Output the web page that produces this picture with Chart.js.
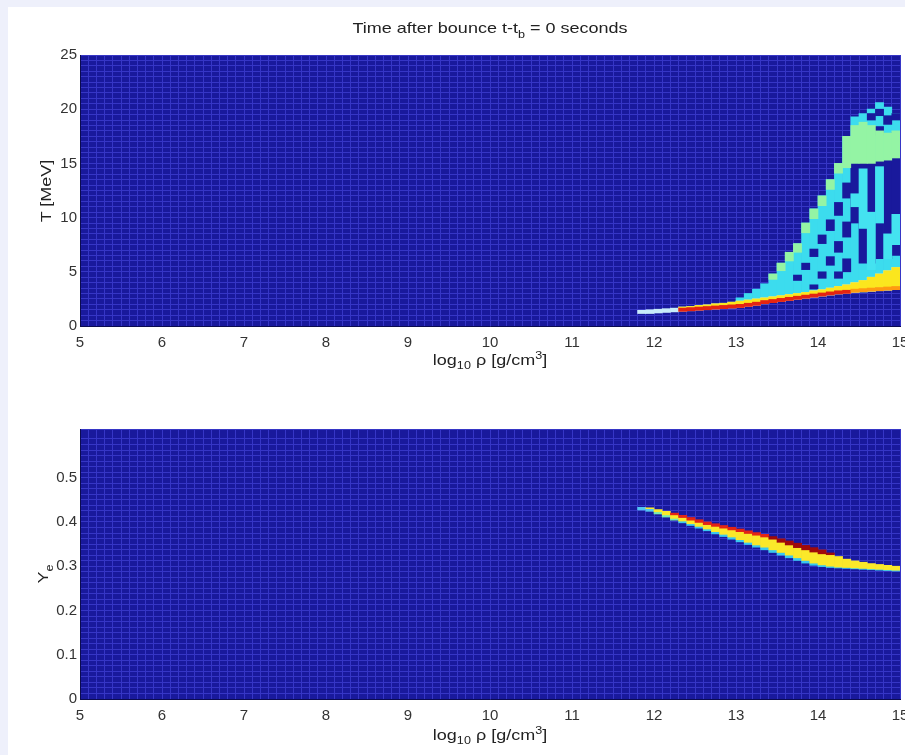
<!DOCTYPE html>
<html>
<head>
<meta charset="utf-8">
<script src="https://cdn.jsdelivr.net/npm/chart.js@4.4.1/dist/chart.umd.min.js"></script>
<style>
  html, body { margin: 0; overflow: hidden; }
  body { background: #eef0fb; width: 905px; height: 755px; font-family: "Liberation Sans", Arial, sans-serif; }
  #fig { position: absolute; left: 8px; top: 7px; width: 897px; height: 748px; background: #fff; }
  canvas { position: absolute; left: 0; }
  .lbl { position: absolute; color: #222; font-size: 15px; line-height: 1; white-space: nowrap; }
  .lbl sub { font-size: 70%; vertical-align: -0.45em; }
  .lbl sup { font-size: 70%; vertical-align: 0.55em; }
  .mid { left: 490px; transform: translateX(-50%) scaleX(1.2); }
  .rot { transform: translate(-50%, -50%) rotate(-90deg) scaleX(1.2); }
</style>
</head>
<body>
<div id="fig"></div>
<canvas id="tChart" width="905" height="372" style="top:0"></canvas>
<canvas id="yeChart" width="905" height="383" style="top:372px"></canvas>

<div class="lbl mid" style="top:20px">Time after bounce t-t<sub>b</sub> = 0 seconds</div>
<div class="lbl rot" style="left:45px;top:191px">T [MeV]</div>
<div class="lbl mid" style="top:350px">log<sub>10</sub> ρ [g/cm<sup>3</sup>]</div>
<div class="lbl rot" style="left:45px;top:574px">Y<sub>e</sub></div>
<div class="lbl mid" style="top:725px">log<sub>10</sub> ρ [g/cm<sup>3</sup>]</div>

<script>
// density bins (bin centres, 0.1 dex wide)
const rhoBins = [11.85, 11.95, 12.05, 12.15, 12.25, 12.35, 12.45, 12.55, 12.65, 12.75,
  12.85, 12.95, 13.05, 13.15, 13.25, 13.35, 13.45, 13.55, 13.65, 13.75,
  13.85, 13.95, 14.05, 14.15, 14.25, 14.35, 14.45, 14.55, 14.65, 14.75, 14.85, 14.95];

// top panel: temperature [MeV]
const tBandLo = [1.15, 1.15, 1.2, 1.25, 1.3, 1.35, 1.4, 1.45, 1.5, 1.55,
  1.6, 1.65, 1.7, 1.8, 1.9, 2.05, 2.15, 2.25, 2.35, 2.45,
  2.55, 2.65, 2.75, 2.85, 2.95, 3.0, 3.1, 3.15, 3.2, 3.25, 3.3, 3.35];
const tBandMid = [null, null, null, null, null, 1.65, 1.7, 1.75, 1.8, 1.85,
  1.9, 1.95, 2.0, 2.1, 2.2, 2.35, 2.45, 2.55, 2.65, 2.75,
  2.85, 2.95, 3.05, 3.15, 3.25, 3.3, 3.4, 3.45, 3.5, 3.55, 3.6, 3.65];
const tBandHi = [1.45, 1.5, 1.55, 1.6, 1.65, 1.75, 1.8, 1.9, 1.95, 2.05,
  2.1, 2.2, 2.3, 2.4, 2.5, 2.6, 2.7, 2.8, 2.9, 3.0,
  3.1, 3.25, 3.35, 3.5, 3.65, 3.8, 4.0, 4.2, 4.5, 4.8, 5.1, 5.4];
const tPlumeHi = [null, null, null, null, null, null, null, null, null, null,
  null, null, 2.6, 3.0, 3.4, 3.9, 4.8, 5.8, 6.8, 7.6,
  9.5, 10.8, 12.0, 13.5, 15.0, 17.5, 19.3, 19.6, 20.0, 20.6, 20.2, 19.6];
const tGreenLo = [null, null, null, null, null, null, null, null, null, null,
  null, null, null, null, null, null, 4.3, 5.1, 6.0, 6.8,
  8.6, 9.9, 11.1, 12.6, 14.1, 14.6, 15.0, 15.0, 15.0, 15.2, 15.3, 15.5];
const tGreenHi = [null, null, null, null, null, null, null, null, null, null,
  null, null, null, null, null, null, 4.8, 5.8, 6.8, 7.6,
  9.5, 10.8, 12.0, 13.5, 15.0, 17.5, 18.5, 18.8, 18.5, 18.0, 17.8, 18.0];

// empty cells inside the plume
const tHoleX = [13.75, 13.85, 13.95, 13.95, 14.05, 14.05, 14.15, 14.15, 14.25, 14.25,
  14.25, 14.35, 14.35, 14.35, 14.45, 14.55, 14.65, 14.75, 14.85, 14.95,
  14.65, 14.75, 14.75, 14.85, 14.95, 14.95];
const tHoleLo = [4.2, 5.2, 3.4, 6.4, 4.4, 7.6, 5.6, 8.8, 4.4, 6.8,
  10.2, 5.0, 8.2, 11.8, 9.5, 5.8, 5.8, 6.2, 6.2, 6.5,
  19.0, 17.6, 19.4, 18.6, 17.2, 19.0];
const tHoleHi = [4.7, 5.8, 3.8, 7.1, 5.0, 8.4, 6.4, 9.8, 5.0, 7.8,
  11.4, 6.2, 9.6, 13.2, 15.0, 15.0, 15.0, 15.2, 15.3, 15.5,
  19.6, 18.4, 20.0, 19.4, 17.8, 19.6];

// filled streaks crossing the empty region
const tStripeX = [14.45, 14.55, 14.65, 14.75, 14.85, 14.95];
const tStripeLo = [11.0, 9.0, 5.2, 9.5, 6.2, 7.5];
const tStripeHi = [12.2, 14.5, 10.5, 14.7, 8.5, 10.3];

// bottom panel: electron fraction
const yeLo = [0.427, 0.424, 0.418, 0.411, 0.404, 0.398, 0.392, 0.386, 0.380, 0.373,
  0.367, 0.361, 0.355, 0.349, 0.343, 0.337, 0.331, 0.325, 0.319, 0.313,
  0.307, 0.302, 0.299, 0.297, 0.296, 0.295, 0.294, 0.293, 0.292, 0.291, 0.290, 0.289];
const yeCyanTop = [0.433, 0.430, 0.423, 0.416, 0.408, 0.402, 0.396, 0.390, 0.384, 0.378,
  0.372, 0.366, 0.360, 0.354, 0.348, 0.343, 0.337, 0.331, 0.325, 0.319,
  0.313, 0.307, 0.303, 0.300, 0.298, 0.297, 0.296, 0.295, 0.294, 0.293, 0.292, 0.291];
const yeYellowTop = [0.433, 0.432, 0.428, 0.424, 0.416, 0.410, 0.404, 0.399, 0.394, 0.390,
  0.386, 0.382, 0.378, 0.374, 0.370, 0.366, 0.361, 0.354, 0.348, 0.342,
  0.337, 0.332, 0.328, 0.326, 0.322, 0.316, 0.312, 0.309, 0.306, 0.304, 0.302, 0.300];
const yeHi = [0.433, 0.432, 0.428, 0.424, 0.420, 0.415, 0.410, 0.405, 0.400, 0.396,
  0.392, 0.388, 0.384, 0.380, 0.376, 0.372, 0.367, 0.362, 0.357, 0.352,
  0.347, 0.342, 0.337, 0.330, 0.322, 0.316, 0.312, 0.309, 0.306, 0.304, 0.302, 0.300];

const BG = "#19199c";
const GRID = "#3636c6";
const FONT = { family: "'Liberation Sans', Arial, sans-serif", size: 15 };

function bars(xs, lo, hi) {
  const out = [];
  xs.forEach((x, i) => {
    if (lo[i] != null && hi[i] != null && hi[i] > lo[i]) out.push({ x: x, y: [lo[i], hi[i]] });
  });
  return out;
}

function layers(list) {
  // first entry at the bottom, last on top
  return list.map((d, i) => ({
    data: d.data,
    backgroundColor: d.color,
    borderWidth: 0,
    grouped: false,
    barPercentage: 1,
    categoryPercentage: 1,
    order: list.length - i
  }));
}

const plotBg = {
  id: "plotBg",
  beforeDraw(chart) {
    const a = chart.chartArea;
    chart.ctx.save();
    chart.ctx.fillStyle = BG;
    chart.ctx.fillRect(a.left, a.top, a.width, a.height);
    chart.ctx.restore();
  }
};

function panel(id, datasets, yMax, yStep, yLabel, padTop, xHeight) {
  return new Chart(document.getElementById(id), {
    type: "bar",
    data: { datasets: datasets },
    options: {
      responsive: false,
      animation: false,
      events: [],
      layout: { padding: { top: padTop, right: 5, left: 0, bottom: 0 } },
      plugins: { legend: { display: false }, tooltip: { enabled: false } },
      scales: {
        x: {
          type: "linear", min: 5, max: 15, offset: false,
          grid: { offset: false, color: GRID, drawTicks: false },
          border: { color: "#0c0c50" },
          ticks: {
            stepSize: 0.1, autoSkip: false, maxRotation: 0, padding: 8,
            color: "#333", font: FONT,
            callback: v => Math.abs(v - Math.round(v)) < 1e-6 ? String(Math.round(v)) : ""
          },
          afterFit: s => { s.height = xHeight; s.paddingLeft = 0; s.paddingRight = 0; }
        },
        y: {
          type: "linear", min: 0, max: yMax,
          grid: { color: GRID, drawTicks: false },
          border: { color: "#0c0c50" },
          ticks: { stepSize: yStep, autoSkip: false, padding: 3, color: "#333", font: FONT, callback: yLabel },
          afterFit: s => { s.width = 80; s.paddingTop = 0; s.paddingBottom = 0; }
        }
      }
    },
    plugins: [plotBg]
  });
}

const topSets = layers([
  { data: bars(rhoBins, tBandLo, tPlumeHi), color: "#3cdcee" },
  { data: bars(tHoleX, tHoleLo, tHoleHi), color: BG },
  { data: bars(tStripeX, tStripeLo, tStripeHi), color: "#44e2f0" },
  { data: bars(rhoBins, tGreenLo, tGreenHi), color: "#94f4a4" },
  { data: bars(rhoBins, tBandLo, tBandHi), color: "#c8ecfa" },
  { data: bars(rhoBins, tBandMid, tBandHi), color: "#fbe61e" },
  { data: bars(rhoBins, tBandLo, tBandMid), color: c => (c.raw && c.raw.x > 14.4) ? "#ff9a10" : "#e42412" }
]);

const yeSets = layers([
  { data: bars(rhoBins, yeLo, yeCyanTop), color: c => !c.raw ? "#38c8f0" : c.raw.x < 12.0 ? "#52c4f2" : c.raw.x < 12.3 ? "#74eab4" : "#38c8f0" },
  { data: bars(rhoBins, yeCyanTop, yeYellowTop), color: "#fbe82a" },
  { data: bars(rhoBins, yeYellowTop, yeHi), color: c => (c.raw && c.raw.x > 13.4 && c.raw.x < 14.2) ? "#a00a0a" : "#e42414" }
]);

panel("tChart", topSets, 25, 0.5,
  v => Math.abs(v / 5 - Math.round(v / 5)) < 1e-6 ? String(Math.round(v)) : "", 55, 46);

panel("yeChart", yeSets, 0.61, 0.0125,
  v => {
    const k = Math.round(v * 10);
    if (Math.abs(v * 10 - k) > 1e-6 || k > 5) return "";
    return k === 0 ? "0" : (k / 10).toFixed(1);
  }, 57, 56);
</script>
</body>
</html>
